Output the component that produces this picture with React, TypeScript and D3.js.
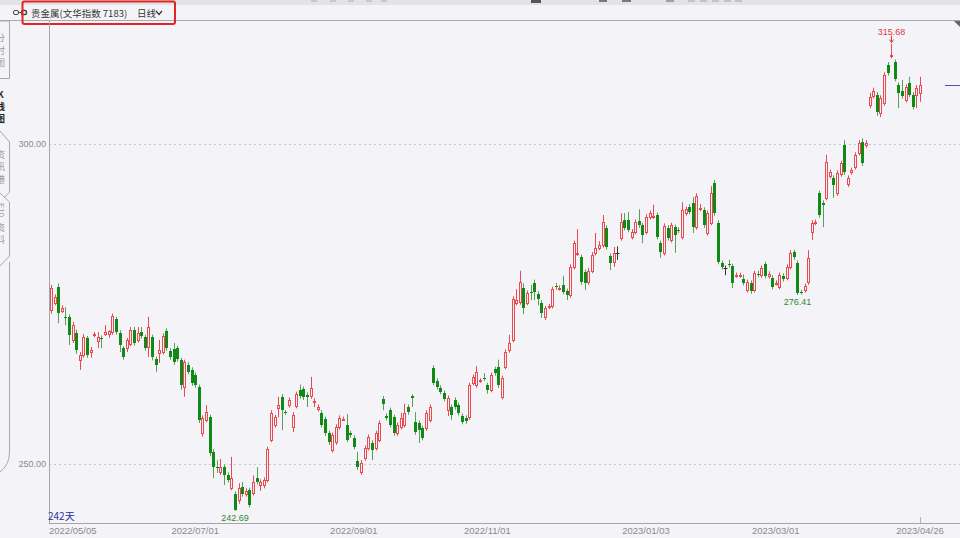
import React from 'react';
import * as d3 from 'd3';

// ---- data ----
const dayCount = 242;
const tickIndex = [0, 40, 84, 121, 165, 201, 241];
const tickLabels = ['2022/05/05', '2022/07/01', '2022/09/01', '2022/11/01', '2023/01/03', '2023/03/01', '2023/04/26'];
const yTicks = [250, 300];
const title = '贵金属(文华指数 7183)';
const periodLabel = '日线';
const dayCountLabel = '242天';
const localLowFrom = 165; // search window start for the second low marker

const opens = [
  274.1, 275.2, 277.7, 273.9, 272.9, 273.0, 269.4, 270.5, 266.3, 267.0,
  269.7, 267.5, 270.2, 269.2, 269.7, 270.3, 270.3, 270.6, 272.6, 270.5,
  268.1, 268.1, 268.8, 270.9, 269.4, 270.6, 269.8, 268.3, 269.8, 266.4,
  267.3, 267.5, 270.8, 267.7, 268.0, 268.1, 266.2, 262.0, 265.5, 264.7,
  263.9, 262.0, 254.8, 256.9, 257.3, 251.9, 249.6, 248.7, 249.5, 248.3,
  246.3, 245.3, 244.4, 246.4, 245.3, 245.9, 245.5, 247.8, 246.7, 246.7,
  247.5, 253.8, 256.1, 258.8, 260.5, 258.1, 259.2, 255.8, 259.1, 261.6,
  261.7, 260.8, 260.6, 259.8, 258.6, 258.0, 257.0, 254.8, 252.2, 253.4,
  255.8, 257.0, 256.1, 254.8, 254.1, 250.5, 248.8, 250.9, 252.5, 253.3,
  252.5, 253.8, 260.2, 257.5, 258.4, 257.3, 254.8, 255.8, 256.1, 258.9,
  260.6, 256.6, 256.4, 255.6, 255.6, 256.9, 265.0, 263.0, 261.9, 261.1,
  258.4, 258.9, 260.0, 259.2, 257.5, 257.2, 257.3, 262.7, 262.3, 263.0,
  263.4, 262.3, 261.6, 264.8, 265.2, 260.5, 265.2, 267.8, 269.4, 275.2,
  275.3, 277.5, 275.2, 276.9, 278.3, 276.6, 275.2, 273.0, 274.6, 274.7,
  277.8, 277.4, 278.0, 277.0, 276.4, 280.8, 282.9, 282.3, 280.0, 278.4,
  280.2, 283.0, 283.8, 284.2, 286.9, 282.5, 281.6, 283.0, 285.3, 288.1,
  288.1, 285.5, 286.3, 288.0, 287.3, 286.3, 288.6, 288.7, 288.9, 284.5,
  283.0, 286.9, 285.0, 287.0, 286.6, 285.5, 289.2, 290.2, 290.8, 287.0,
  289.9, 289.7, 286.1, 287.7, 293.9, 287.7, 281.4, 280.6, 281.3, 280.9,
  279.4, 279.4, 278.9, 277.2, 278.3, 277.2, 279.7, 279.5, 281.3, 279.4,
  279.1, 278.2, 277.7, 279.4, 279.1, 280.8, 283.1, 281.4, 276.9, 277.2,
  278.4, 286.2, 287.7, 292.3, 290.8, 291.6, 295.0, 294.7, 292.3, 295.3,
  299.8, 293.7, 295.6, 296.4, 298.6, 300.3, 299.8, 306.1, 307.5, 307.7,
  304.8, 306.4, 312.3, 313.8, 312.8, 309.2, 308.3, 306.9, 309.5, 307.7,
  307.7, 308.0,
];

const closes = [
  277.5, 276.1, 273.6, 274.4, 272.8, 270.2, 271.7, 267.8, 267.0, 269.8,
  267.0, 267.8, 270.3, 269.8, 269.6, 270.6, 270.8, 273.1, 270.6, 268.6,
  266.7, 269.4, 270.9, 268.9, 270.5, 270.0, 268.1, 271.4, 266.7, 265.5,
  267.8, 270.0, 268.1, 266.7, 265.9, 266.4, 262.3, 265.9, 264.4, 262.7,
  262.3, 256.9, 257.2, 258.1, 251.7, 249.5, 249.4, 249.5, 248.3, 247.5,
  247.8, 242.8, 246.3, 245.3, 245.8, 243.6, 247.2, 247.2, 247.2, 247.5,
  252.3, 258.0, 257.3, 259.2, 258.4, 258.0, 260.0, 257.7, 260.9, 260.6,
  260.5, 260.5, 261.9, 259.9, 258.9, 256.1, 254.8, 253.4, 254.5, 255.8,
  257.2, 257.1, 253.8, 254.5, 252.7, 249.5, 250.2, 252.5, 254.2, 252.2,
  254.8, 256.4, 259.4, 257.2, 256.1, 254.8, 256.1, 257.2, 258.0, 258.1,
  260.3, 255.0, 255.3, 254.1, 258.0, 258.9, 262.7, 262.0, 261.3, 260.2,
  260.3, 257.7, 258.9, 258.0, 256.6, 256.7, 262.3, 263.6, 264.4, 263.1,
  263.3, 261.6, 263.9, 264.2, 262.3, 263.4, 267.5, 268.9, 275.8, 275.6,
  278.4, 274.4, 276.7, 276.8, 276.9, 275.8, 273.6, 274.3, 274.7, 277.3,
  277.6, 277.5, 276.9, 276.4, 280.8, 284.5, 283.0, 278.4, 278.3, 280.2,
  282.7, 283.8, 284.2, 287.8, 283.9, 281.4, 283.0, 283.0, 287.8, 286.9,
  286.6, 286.3, 287.8, 287.3, 285.8, 288.6, 289.2, 288.8, 285.5, 283.1,
  287.2, 285.3, 287.3, 285.8, 286.5, 289.7, 289.8, 289.4, 287.0, 291.9,
  290.0, 287.3, 289.2, 292.3, 289.2, 281.6, 280.8, 280.6, 281.1, 278.3,
  279.5, 279.5, 278.3, 278.4, 277.0, 279.8, 279.6, 280.6, 279.4, 279.7,
  277.7, 278.3, 279.5, 278.9, 280.8, 283.0, 282.3, 276.7, 276.8, 277.8,
  282.2, 287.7, 287.8, 288.9, 290.5, 297.2, 295.6, 293.6, 295.5, 297.0,
  295.6, 294.7, 295.9, 298.3, 300.2, 297.0, 300.2, 307.3, 308.3, 305.0,
  307.2, 310.8, 311.1, 313.9, 310.2, 308.0, 307.5, 308.9, 307.7, 305.8,
  308.8, 309.2,
];

const highs = [
  278.0, 276.5, 278.2, 274.8, 274.5, 273.4, 272.2, 271.0, 267.5, 270.3,
  270.0, 268.3, 270.6, 270.6, 270.1, 271.7, 270.9, 273.5, 273.0, 270.9,
  268.4, 269.7, 271.4, 271.4, 271.4, 271.4, 270.2, 273.0, 270.2, 266.8,
  269.4, 270.4, 271.2, 268.1, 268.9, 268.5, 266.6, 266.3, 265.9, 265.1,
  264.3, 262.4, 257.6, 259.2, 257.7, 252.3, 250.6, 250.8, 249.9, 248.7,
  251.1, 245.7, 247.0, 247.2, 246.2, 246.3, 248.2, 249.5, 247.6, 247.9,
  252.7, 258.4, 257.7, 260.5, 260.9, 258.4, 260.4, 258.1, 261.3, 262.4,
  262.1, 261.2, 263.6, 260.3, 259.3, 258.4, 257.4, 255.2, 254.9, 256.2,
  257.6, 257.4, 257.8, 255.2, 254.5, 251.9, 250.6, 252.9, 254.6, 253.7,
  255.2, 256.8, 260.6, 257.9, 258.8, 257.7, 256.5, 258.0, 259.4, 259.3,
  260.9, 258.1, 256.8, 256.0, 258.4, 259.3, 265.4, 263.4, 262.3, 261.5,
  260.7, 259.3, 260.4, 259.6, 257.9, 257.6, 262.7, 264.0, 265.3, 263.4,
  264.2, 262.7, 264.3, 265.2, 266.3, 263.8, 267.9, 270.2, 276.2, 277.3,
  280.2, 278.2, 277.1, 278.0, 278.8, 277.0, 275.6, 274.7, 275.0, 277.7,
  278.3, 277.9, 279.4, 277.4, 281.2, 284.9, 286.7, 282.7, 280.4, 280.6,
  283.1, 286.1, 284.8, 288.9, 287.3, 282.9, 283.9, 284.0, 289.2, 289.2,
  289.4, 286.7, 288.2, 289.8, 287.7, 289.0, 289.6, 290.5, 289.3, 284.9,
  287.6, 287.3, 287.7, 287.4, 287.0, 290.9, 290.2, 290.6, 291.7, 292.3,
  290.6, 290.1, 289.6, 293.4, 294.4, 288.1, 281.8, 281.0, 281.9, 281.3,
  279.9, 279.9, 279.6, 278.8, 278.7, 280.2, 280.2, 281.0, 281.6, 280.1,
  279.5, 278.7, 279.9, 279.8, 281.2, 283.4, 283.5, 281.8, 277.2, 278.2,
  283.4, 288.1, 288.2, 292.7, 291.2, 298.3, 296.0, 295.1, 295.9, 297.4,
  300.6, 295.1, 296.3, 298.7, 300.6, 300.9, 300.6, 308.0, 308.8, 308.1,
  307.6, 311.2, 312.8, 315.68, 313.2, 309.6, 310.0, 309.3, 310.5, 308.1,
  309.2, 310.5,
];

const lows = [
  273.5, 274.8, 272.0, 273.6, 271.7, 268.6, 268.9, 267.2, 264.7, 266.6,
  266.6, 266.6, 269.8, 268.1, 268.1, 270.0, 269.7, 270.2, 270.2, 267.5,
  266.3, 267.5, 268.4, 268.5, 269.0, 269.6, 267.7, 266.7, 266.2, 264.4,
  265.8, 267.1, 267.7, 266.3, 265.5, 266.0, 261.6, 260.5, 264.0, 262.2,
  261.9, 256.4, 254.3, 256.5, 251.2, 247.8, 248.6, 248.3, 246.7, 247.1,
  245.9, 242.69, 243.8, 244.9, 244.9, 243.2, 245.1, 246.8, 245.8, 246.2,
  247.1, 253.4, 255.7, 257.3, 255.3, 257.7, 258.8, 255.0, 258.7, 260.2,
  260.0, 258.9, 260.2, 258.9, 258.2, 255.7, 254.4, 253.0, 251.8, 253.0,
  255.4, 256.8, 253.4, 254.1, 252.3, 249.1, 248.3, 250.5, 252.1, 250.6,
  252.1, 253.4, 258.4, 256.8, 255.7, 254.4, 254.4, 255.4, 255.7, 257.7,
  258.9, 254.6, 253.3, 253.7, 255.2, 256.5, 262.3, 261.6, 260.9, 259.8,
  257.5, 256.9, 258.5, 257.6, 256.2, 256.3, 256.9, 262.3, 261.9, 262.7,
  263.0, 261.0, 261.2, 263.8, 261.9, 260.1, 264.8, 267.4, 269.0, 274.8,
  274.9, 273.4, 274.8, 275.6, 275.6, 274.8, 272.8, 272.5, 274.2, 274.3,
  277.2, 277.1, 276.5, 275.6, 276.0, 280.4, 282.5, 278.0, 277.2, 278.0,
  279.8, 282.6, 283.4, 283.8, 283.5, 280.3, 280.8, 281.9, 284.9, 286.5,
  286.2, 285.1, 285.9, 286.9, 284.5, 285.9, 288.2, 288.3, 285.1, 282.2,
  282.6, 284.9, 284.6, 283.0, 286.1, 285.1, 288.8, 289.0, 286.1, 286.6,
  289.5, 286.9, 285.7, 287.3, 288.8, 281.2, 280.4, 279.5, 280.7, 277.5,
  279.1, 279.1, 277.9, 276.8, 276.6, 276.8, 279.2, 279.1, 279.0, 279.0,
  277.3, 277.9, 277.3, 278.5, 278.7, 280.4, 281.9, 276.41, 276.5, 276.8,
  278.0, 285.0, 287.3, 288.5, 287.0, 291.2, 294.6, 291.6, 291.9, 294.9,
  295.2, 293.3, 295.2, 296.0, 298.2, 296.6, 299.4, 305.6, 307.1, 304.4,
  304.2, 306.0, 310.7, 313.4, 309.8, 305.6, 307.1, 306.5, 307.3, 305.4,
  305.6, 306.6,
];

// ---- styles ----
const BG = '#f4f4f8';
const UP = '#ea4a4f';
const DOWN = '#108a14';
const DOWN_WICK = '#55a055';
const FLAT = '#333333';
const AXIS = '#a4a4aa';
const TEXT_GRAY = '#8a8a8a';
const NUM_FONT = '"Liberation Sans", Arial, sans-serif';
const CJK_FONT = '"Noto Sans CJK SC", "Noto Sans", sans-serif';

export default function App() {
  const W = 960;
  const H = 538;
  const plotLeft = 49;
  const plotTop = 20;
  const plotBottom = 523;

  const x = d3.scaleLinear().domain([0, dayCount - 1]).range([51, 920]);
  const y = d3.scaleLinear().domain([250, 300]).range([464, 144]);

  const candles = opens.map((o, i) => {
    const c = closes[i];
    const h = highs[i];
    const l = lows[i];
    const cx = Math.round(x(i)) + 0.5;
    const yo = y(o);
    const yc = y(c);
    const yh = y(h);
    const yl = y(l);
    const top = Math.min(yo, yc);
    const bot = Math.max(yo, yc);
    if (c > o) {
      const t = Math.round(top) + 0.5;
      const b = Math.max(Math.round(bot) + 0.5, t + 1);
      return (
        <g key={i}>
          {yh < t && <line x1={cx} x2={cx} y1={yh} y2={t} stroke={UP} strokeWidth={1} />}
          {yl > b && <line x1={cx} x2={cx} y1={b} y2={yl} stroke={UP} strokeWidth={1} />}
          <rect x={cx - 1} y={t} width={2} height={b - t} fill={BG} stroke={UP} strokeWidth={1} />
        </g>
      );
    }
    if (c < o) {
      const t = Math.round(top);
      const hgt = Math.max(Math.round(bot) - t, 1);
      return (
        <g key={i}>
          <line x1={cx} x2={cx} y1={yh} y2={yl} stroke={DOWN_WICK} strokeWidth={1} />
          <rect x={cx - 1.5} y={t} width={3} height={hgt} fill={DOWN} />
        </g>
      );
    }
    const yy = Math.round(yo) + 0.5;
    return (
      <g key={i}>
        <line x1={cx} x2={cx} y1={yh} y2={yl} stroke={FLAT} strokeWidth={1} />
        <line x1={cx - 2} x2={cx + 2} y1={yy} y2={yy} stroke={FLAT} strokeWidth={1} />
      </g>
    );
  });

  const maxIdx = d3.maxIndex(highs);
  const minIdx = d3.minIndex(lows);
  const lowTail = lows.slice(localLowFrom);
  const locMinIdx = localLowFrom + d3.minIndex(lowTail);

  const maxX = Math.round(x(maxIdx)) + 0.5;
  const maxY = y(highs[maxIdx]);
  const lastY = Math.round(y(closes[dayCount - 1])) + 0.5;

  const fmt = d3.format('.2f');

  const tabText = (chars: string[], ys: number[], color: string, bold = false) =>
    chars.map((ch, k) => (
      <text key={ch + k} x={0.5} y={ys[k]} fontSize={9} fill={color} textAnchor="middle"
        fontWeight={bold ? 700 : 400} fontFamily={CJK_FONT}>{ch}</text>
    ));

  return (
    <svg width={W} height={H} viewBox={`0 0 ${W} ${H}`}
      style={{ position: 'fixed', left: 0, top: 0, display: 'block' }}>
      <rect x={0} y={0} width={W} height={H} fill={BG} />

      {/* top toolbar strip (cut off) */}
      <rect x={0} y={0} width={W} height={5} fill="#e3e3e7" />
      {[311, 330, 348, 366, 381].map((bx) => (
        <rect key={bx} x={bx} y={0} width={6} height={2} fill="#c8c8cc" />
      ))}
      <rect x={531} y={0} width={10} height={3} fill="#55555a" />
      <rect x={599} y={0} width={8} height={2} fill="#77777c" />
      <rect x={622} y={0} width={9} height={2} fill="#77777c" />
      <rect x={666} y={0} width={8} height={2} fill="#a0a0a4" />
      {[688, 700, 712, 724, 735].map((bx) => (
        <rect key={bx} x={bx} y={0} width={7} height={2} fill="#c4c4c8" />
      ))}

      {/* header line */}
      <line x1={0} x2={W} y1={20.5} y2={20.5} stroke="#a8a8ae" strokeWidth={1} />
      <path d={`M954,21 L960,21 L960,27 Z`} fill="#666" />

      {/* title */}
      <rect x={13.5} y={10.5} width={5} height={4} rx={1.5} fill="none" stroke="#444" strokeWidth={1} />
      <line x1={18.5} x2={21.5} y1={12.5} y2={12.5} stroke="#444" strokeWidth={1} />
      <rect x={21.5} y={10.5} width={5} height={4} rx={1.5} fill="none" stroke="#444" strokeWidth={1.4} />
      <text x={31} y={16.5} fontSize={9.5} fill="#333" fontFamily={CJK_FONT}>{title}</text>
      <text x={137} y={16.5} fontSize={9.5} fill="#333" fontFamily={CJK_FONT}>{periodLabel}</text>
      <path d="M156,11 L159,14.5 L162,11" fill="none" stroke="#333" strokeWidth={1.2} />
      <rect x={22.5} y={1.5} width={152.5} height={22.5} rx={2} fill="none" stroke="#e02424" strokeWidth={2} />

      {/* left tabs */}
      <path d="M0,21 H9.5 V78.5 H0" fill="none" stroke="#a8a8ac" strokeWidth={1} />
      <path d="M0,131 L9.5,142 V192 L4,198" fill="none" stroke="#a8a8ac" strokeWidth={1} />
      <path d="M0,193 L9.5,202 V256 L0,266" fill="none" stroke="#a8a8ac" strokeWidth={1} />
      <path d="M9.5,262 V452 Q9.5,465 0,472" fill="none" stroke="#a8a8ac" strokeWidth={1} />
      {tabText(['分', '时', '图'], [41, 54, 66], '#9a9a9a')}
      {tabText(['K', '线', '图'], [98, 110, 122], '#222', true)}
      {tabText(['资', '讯', '港'], [158, 170, 183], '#9a9a9a')}
      <text x={1} y={210} fontSize={8} fill="#9a9a9a" fontFamily={NUM_FONT} textAnchor="middle"
        transform="rotate(90 1 210)" dominantBaseline="middle">F10</text>
      {tabText(['资', '料'], [231, 243], '#9a9a9a')}

      {/* grid */}
      {yTicks.map((t) => (
        <g key={t}>
          <line x1={plotLeft} x2={W} y1={Math.round(y(t)) + 0.5} y2={Math.round(y(t)) + 0.5}
            stroke="#c6c6ce" strokeWidth={1} strokeDasharray="2,3" />
          <text x={46} y={y(t) + 3} fontSize={9} fill={TEXT_GRAY} textAnchor="end" fontFamily={NUM_FONT}>
            {fmt(t)}
          </text>
        </g>
      ))}

      {/* plot border */}
      <line x1={plotLeft + 0.5} x2={plotLeft + 0.5} y1={plotTop} y2={plotBottom} stroke={AXIS} strokeWidth={1} />
      <line x1={plotLeft} x2={W} y1={plotBottom + 0.5} y2={plotBottom + 0.5} stroke={AXIS} strokeWidth={1} />

      {/* candles */}
      {candles}

      {/* annotations */}
      <text x={maxX} y={maxY - 9} fontSize={9} fill="#e0383e" textAnchor="middle" fontFamily={NUM_FONT}>
        {fmt(highs[maxIdx])}
      </text>
      <line x1={maxX} x2={maxX} y1={maxY - 8} y2={maxY - 1} stroke="#e0383e" strokeWidth={1} />
      <path d={`M${maxX - 2},${maxY - 4} L${maxX},${maxY - 1} L${maxX + 2},${maxY - 4}`} fill="none" stroke="#e0383e" strokeWidth={1} />

      <text x={x(minIdx)} y={y(lows[minIdx]) + 10.5} fontSize={9} fill="#2e8a2e" textAnchor="middle" fontFamily={NUM_FONT}>
        {fmt(lows[minIdx])}
      </text>
      <text x={x(locMinIdx)} y={y(lows[locMinIdx]) + 10.5} fontSize={9} fill="#2e8a2e" textAnchor="middle" fontFamily={NUM_FONT}>
        {fmt(lows[locMinIdx])}
      </text>

      {/* last price marker */}
      <line x1={945} x2={W} y1={lastY} y2={lastY} stroke="#4a56b0" strokeWidth={1} />

      {/* day count */}
      <text x={48} y={520} fontSize={10} fill="#2f2f9c" fontFamily={CJK_FONT}>{dayCountLabel}</text>

      {/* x axis labels */}
      {tickIndex.map((ti, k) => (
        <text key={ti} x={k === 0 ? plotLeft : x(ti)} y={534} fontSize={9.5} fill={TEXT_GRAY}
          textAnchor={k === 0 ? 'start' : 'middle'} fontFamily={NUM_FONT}>
          {tickLabels[k]}
        </text>
      ))}
      <line x1={Math.round(x(tickIndex[tickIndex.length - 1])) + 0.5} x2={Math.round(x(tickIndex[tickIndex.length - 1])) + 0.5}
        y1={517} y2={523} stroke="#b0b0b4" strokeWidth={1} />
    </svg>
  );
}
